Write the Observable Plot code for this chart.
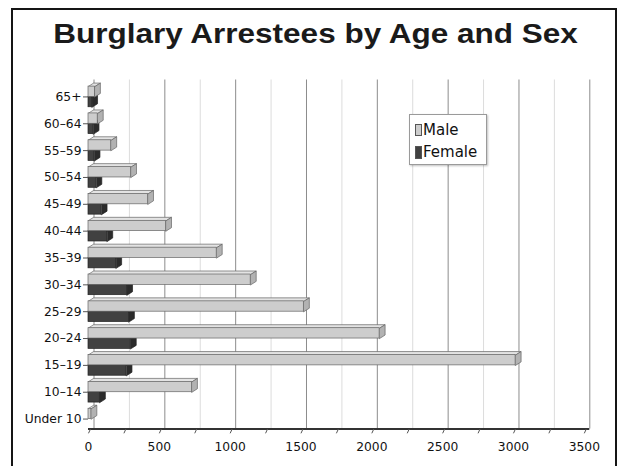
<!DOCTYPE html>
<html>
<head>
<meta charset="utf-8">
<script src="https://cdn.jsdelivr.net/npm/d3@7"></script>
<script src="https://cdn.jsdelivr.net/npm/@observablehq/plot@0.6"></script>
<style>
  html, body { margin: 0; padding: 0; background: #fff; width: 618px; height: 466px; overflow: hidden; }
  #chart { position: absolute; left: 0; top: 0; }
  #border { position: absolute; left: 10.5px; top: 7.5px; width: 606px; height: 600px; box-sizing: border-box;
            border: 2.6px solid #151515; pointer-events: none; }
  #title { position: absolute; left: 0; top: 19.6px; width: 631px; text-align: center;
           font: bold 28px "Liberation Sans", Arial, sans-serif; line-height: 28px; color: #1a1a1a;
           transform: scaleX(1.125); transform-origin: 315.5px 50%; white-space: nowrap; }
  #legend { position: absolute; left: 409px; top: 114px; width: 78px; height: 51px; box-sizing: border-box;
            border: 1px solid #9a9a9a; background: #fff; box-shadow: 1px 1px 2px rgba(0,0,0,0.25);
            font: 15px "DejaVu Sans", sans-serif; color: #111; }
  .item { position: absolute; left: 5px; height: 16px; line-height: 16px; white-space: nowrap; }
  .sw { display: inline-block; width: 6.5px; height: 12.5px; box-sizing: border-box; border: 0.8px solid #555;
        vertical-align: -1.5px; margin-right: 1.5px; }
</style>
</head>
<body>
<div id="chart"></div>
<div id="title">Burglary Arrestees by Age and Sex</div>
<div id="legend"></div>
<div id="border"></div>
<script>
// ---- data ----
const ages   = ["65+", "60–64", "55–59", "50–54", "45–49", "40–44", "35–39", "30–34", "25–29", "20–24", "15–19", "10–14", "Under 10"];
const male   = [45, 65, 160, 300, 420, 547, 905, 1145, 1520, 2055, 3015, 730, 20];
const female = [25, 35, 42, 55, 92, 132, 195, 272, 285, 298, 268, 80, 0];
const series = ["Male", "Female"];
const xTicks = [0, 500, 1000, 1500, 2000, 2500, 3000, 3500];
const xMax = 3500;

// ---- styling ----
const palette = {
  Male:   {front: "#cdcdcd", top: "#e3e3e3", side: "#b2b2b2", stroke: "#666"},
  Female: {front: "#414141", top: "#5a5a5a", side: "#2b2b2b", stroke: "#222"}
};
const pxPerUnit = (618 - 88 - 34.2) / xMax;
const dX = 5.5 / pxPerUnit;     // 3-D depth, x (data units)
const dY = 3.5 / 26.85;         // 3-D depth, y (band units)

// ---- derived tables ----
const bars = ages.flatMap((age, i) => [
  {age, sex: "Male",   v: male[i],   y1: i + 0.115, y2: i + 0.5},
  {age, sex: "Female", v: female[i], y1: i + 0.5,   y2: i + 0.885}
]).filter(b => b.v > 0);
const topFaces = [], sideFaces = [];
bars.forEach((b, k) => {
  const id = k;
  [[0, b.y1], [b.v, b.y1], [b.v + dX, b.y1 - dY], [dX, b.y1 - dY]]
    .forEach(([x, y]) => topFaces.push({id, sex: b.sex, x, y}));
  [[b.v, b.y1], [b.v + dX, b.y1 - dY], [b.v + dX, b.y2 - dY], [b.v, b.y2]]
    .forEach(([x, y]) => sideFaces.push({id, sex: b.sex, x, y}));
});
const minor = d3.range(250, xMax, 500);
const floorTicks = d3.range(0, xMax + 1, 250);

function barMarks(sex) {
  const c = palette[sex];
  return [
    Plot.line(topFaces.filter(d => d.sex === sex), {x: "x", y: "y", z: "id", curve: "linear-closed",
      fill: c.top, stroke: c.stroke, strokeWidth: 0.7}),
    Plot.line(sideFaces.filter(d => d.sex === sex), {x: "x", y: "y", z: "id", curve: "linear-closed",
      fill: c.side, stroke: c.stroke, strokeWidth: 0.7}),
    Plot.rect(bars.filter(d => d.sex === sex), {x1: 0, x2: "v", y1: "y1", y2: "y2",
      fill: c.front, stroke: c.stroke, strokeWidth: 0.7})
  ];
}

const chart = Plot.plot({
  width: 618,
  height: 466,
  marginTop: 83,
  marginBottom: 34,
  marginLeft: 88,
  marginRight: 34.2,
  style: {background: "transparent", fontFamily: "DejaVu Sans, sans-serif", fontSize: "12.3px", color: "#111"},
  x: {domain: [0, xMax], label: null},
  y: {domain: [0, ages.length], reverse: true, label: null},
  marks: [
    // back-wall grid
    Plot.ruleX(minor, {x: d => d + dX, y1: -dY, y2: ages.length - dY, stroke: "#dcdcdc", strokeWidth: 1}),
    Plot.ruleX(xTicks, {x: d => d + dX, y1: -dY, y2: ages.length - dY, stroke: "#8c8c8c", strokeWidth: 1}),
    // floor
    Plot.ruleY([ages.length - dY], {x1: 0, x2: xMax + dX, stroke: "#333", strokeWidth: 2.2}),
    Plot.link(floorTicks, {x1: d => d, y1: ages.length + 0.03, x2: d => d + 14, y2: ages.length - dY,
      stroke: "#555", strokeWidth: 1}),
    // bars
    ...barMarks("Female"),
    ...barMarks("Male"),
    // axes
    Plot.axisX(xTicks, {tickSize: 0, tickPadding: 10, label: null, fill: "#111", fontSize: 12.3,
      tickFormat: d => String(d)}),
    Plot.axisY(ages.map((a, i) => i + 0.5), {tickFormat: d => ages[d - 0.5], tickSize: 5, tickPadding: 2,
      stroke: "#555", fill: "#111", label: null, fontSize: 12.3})
  ]
});
document.getElementById("chart").appendChild(chart);

// legend built from the series list
const legend = document.getElementById("legend");
series.forEach((s, i) => {
  const it = document.createElement("div");
  it.className = "item";
  it.style.top = (6.5 + i * 22.5) + "px";
  const sw = document.createElement("span");
  sw.className = "sw";
  sw.style.background = palette[s].front;
  it.appendChild(sw);
  it.appendChild(document.createTextNode(s));
  legend.appendChild(it);
});
</script>
</body>
</html>
